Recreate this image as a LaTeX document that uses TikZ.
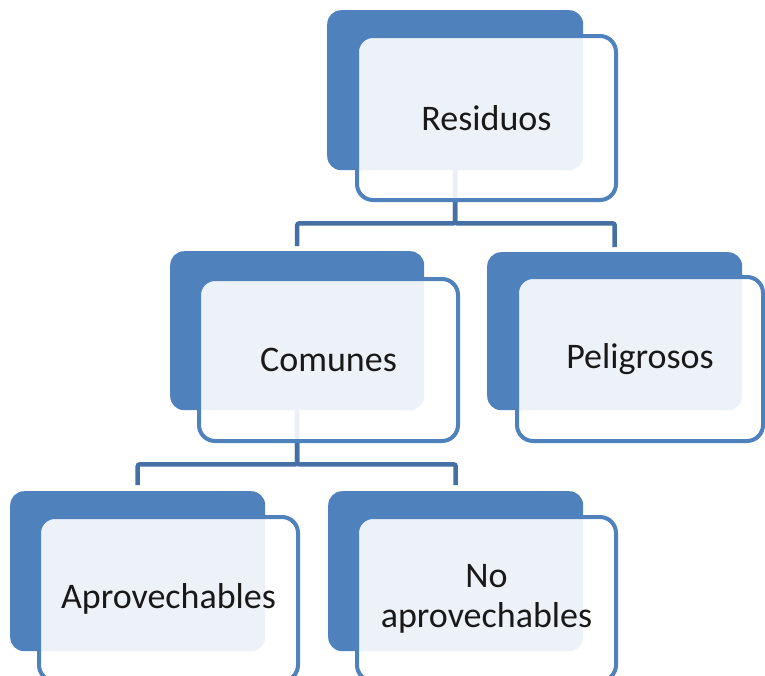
\documentclass[tikz,border=0pt]{standalone}
\usepackage{fontspec}
\setmainfont{Carlito}
\definecolor{accent}{HTML}{4F81BD}
\definecolor{connc}{HTML}{4470A6}
\tikzset{
  backbox/.style={rectangle, rounded corners=14pt, fill=accent, draw=none,
    minimum width=256pt, minimum height=160pt, inner sep=0pt, anchor=north west},
  frontbox/.style={rectangle, rounded corners=16pt, draw=accent, line width=4pt,
    fill=white, fill opacity=0.9, text opacity=1, text=black!90,
    minimum width=259pt, minimum height=164pt, inner sep=0pt, anchor=north west,
    align=center, font=\fontsize{36}{40}\selectfont},
  conn/.style={draw=connc, line width=4.5pt, rounded corners=2pt}
}
\begin{document}
\begin{tikzpicture}[x=1pt,y=-1pt]
\path[use as bounding box] (0,0) rectangle (765,675);
\clip (0,0) rectangle (765,675);
% back boxes
\node[backbox] (rb) at (327,10) {};
\node[backbox, minimum width=254pt, minimum height=159pt] (cb) at (170,251) {};
\node[backbox, minimum width=255pt, minimum height=158pt] (pb) at (487,252) {};
\node[backbox, minimum width=255pt] (ab) at (10,491) {};
\node[backbox, minimum width=255pt] (nb) at (328,491) {};
% connectors
\draw[conn] (rb.south) -- ++(0,53) -| ([yshift=5pt]cb.north);
\draw[conn] (rb.south) -- ++(0,53) -| ([yshift=5pt]pb.north);
\draw[conn] (cb.south) -- ++(0,54) -| ([yshift=6pt]ab.north);
\draw[conn] (cb.south) -- ++(0,54) -| ([yshift=6pt]nb.north);
% front boxes
\node[frontbox] (res) at (355,34) {Residuos};
\node[frontbox, minimum height=162pt] (com) at (197,277) {Comunes};
\node[frontbox, minimum width=246pt] (pel) at (515,275) {Peligrosos};
\node[frontbox] (apr) at (37,515) {Aprovechables};
\node[frontbox] (noa) at (355,515) {No\\aprovechables};
\end{tikzpicture}
\end{document}
